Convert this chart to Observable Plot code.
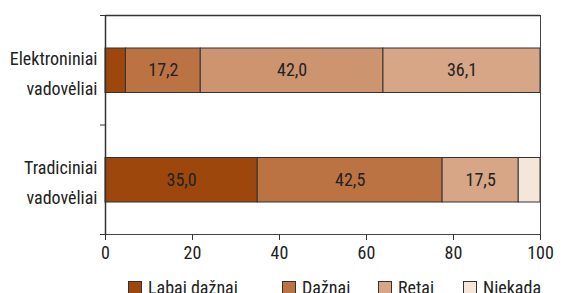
<!DOCTYPE html>
<html>
<head>
<meta charset="utf-8">
<script src="https://cdn.jsdelivr.net/npm/d3@7"></script>
<script src="https://cdn.jsdelivr.net/npm/@observablehq/plot@0.6"></script>
<style>
  html, body { margin: 0; padding: 0; background: #fff; overflow: hidden; }
  body { width: 564px; height: 293px; font-family: "Liberation Sans Narrow", "Arial Narrow", "Roboto Condensed", "DejaVu Sans Condensed", sans-serif; }
  #legend { position: relative; height: 30px; font-size: 18px; color: #222; }
  .item { position: absolute; top: 8px; display: flex; align-items: center; white-space: nowrap; }
  .sw { width: 12px; height: 12px; border: 1px solid #333; margin-right: 6px; }
  .lab { line-height: 16px; }
</style>
</head>
<body>
<div id="chart"></div>
<div id="legend"></div>
<script>
const groups = ["Elektroniniai\nvadovėliai", "Tradiciniai\nvadovėliai"];
const categories = ["Labai dažnai", "Dažnai", "Retai", "Niekada"];
const elektroniniai = [4.7, 17.2, 42.0, 36.1];
const tradiciniai = [35.0, 42.5, 17.5, 5.0];
const xTicks = [0, 20, 40, 60, 80, 100];

const palette = ["#9e470c", "#bc7344", "#d6a686", "#f5e6da"];
// the reference draws the electronic-textbook segments with a shifted set of shades
const elekPalette = ["#9e470c", "#bc7344", "#cd9470", "#d6a686"];

const series = [elektroniniai, tradiciniai];
const rows = [];
series.forEach((vals, gi) => {
  let acc = 0;
  vals.forEach((v, ci) => {
    rows.push({group: gi, cat: categories[ci], value: v, x1: acc, x2: acc + v,
      fill: gi === 0 ? elekPalette[ci] : palette[ci]});
    acc += v;
  });
});

const FONT = getComputedStyle(document.body).fontFamily;

const chart = Plot.plot({
  width: 564,
  height: 272,
  marginLeft: 105,
  marginRight: 24,
  marginTop: 15,
  marginBottom: 38,
  style: {fontFamily: FONT, fontSize: "18px", color: "#222", background: "#fff"},
  x: {domain: [0, 100]},
  y: {domain: [0, 2], reverse: true},
  marks: [
    Plot.rectX(rows, {x1: "x1", x2: "x2", y1: d => d.group, y2: d => d.group + 1,
      insetTop: 33, insetBottom: 32, fill: "fill", stroke: "#333", strokeWidth: 1}),
    Plot.text(rows.filter(d => d.value > 10), {
      x: d => (d.x1 + d.x2) / 2, y: d => d.group + 0.5,
      text: d => d.value.toFixed(1).replace(".", ","), fill: "#222", fontSize: 18}),
    Plot.frame({stroke: "#444", strokeWidth: 1}),
    Plot.axisX({ticks: xTicks, tickSize: 6, tickPadding: 6, tickFormat: d => d, stroke: "#333", fontSize: 18, label: null}),
    Plot.axisY({ticks: [0, 1, 2], tickSize: 5, tickFormat: () => "", stroke: "#333", label: null}),
    Plot.axisY({ticks: [0.5, 1.5], tickSize: 0, tickPadding: 8, tickFormat: d => groups[Math.floor(d)],
      lineHeight: 1.65, fontSize: 18, label: null}),
    Plot.ruleX([0], {stroke: "#333", strokeWidth: 1.5}),
    Plot.ruleY([0], {stroke: "#333", strokeWidth: 1.5})
  ]
});
document.getElementById("chart").appendChild(chart);

const legendX = [128, 282, 378, 463];
const legend = document.getElementById("legend");
categories.forEach((c, i) => {
  const it = document.createElement("div");
  it.className = "item";
  it.style.left = legendX[i] + "px";
  it.innerHTML = `<div class="sw" style="background:${palette[i]}"></div><span class="lab">${c}</span>`;
  legend.appendChild(it);
});
</script>
</body>
</html>
